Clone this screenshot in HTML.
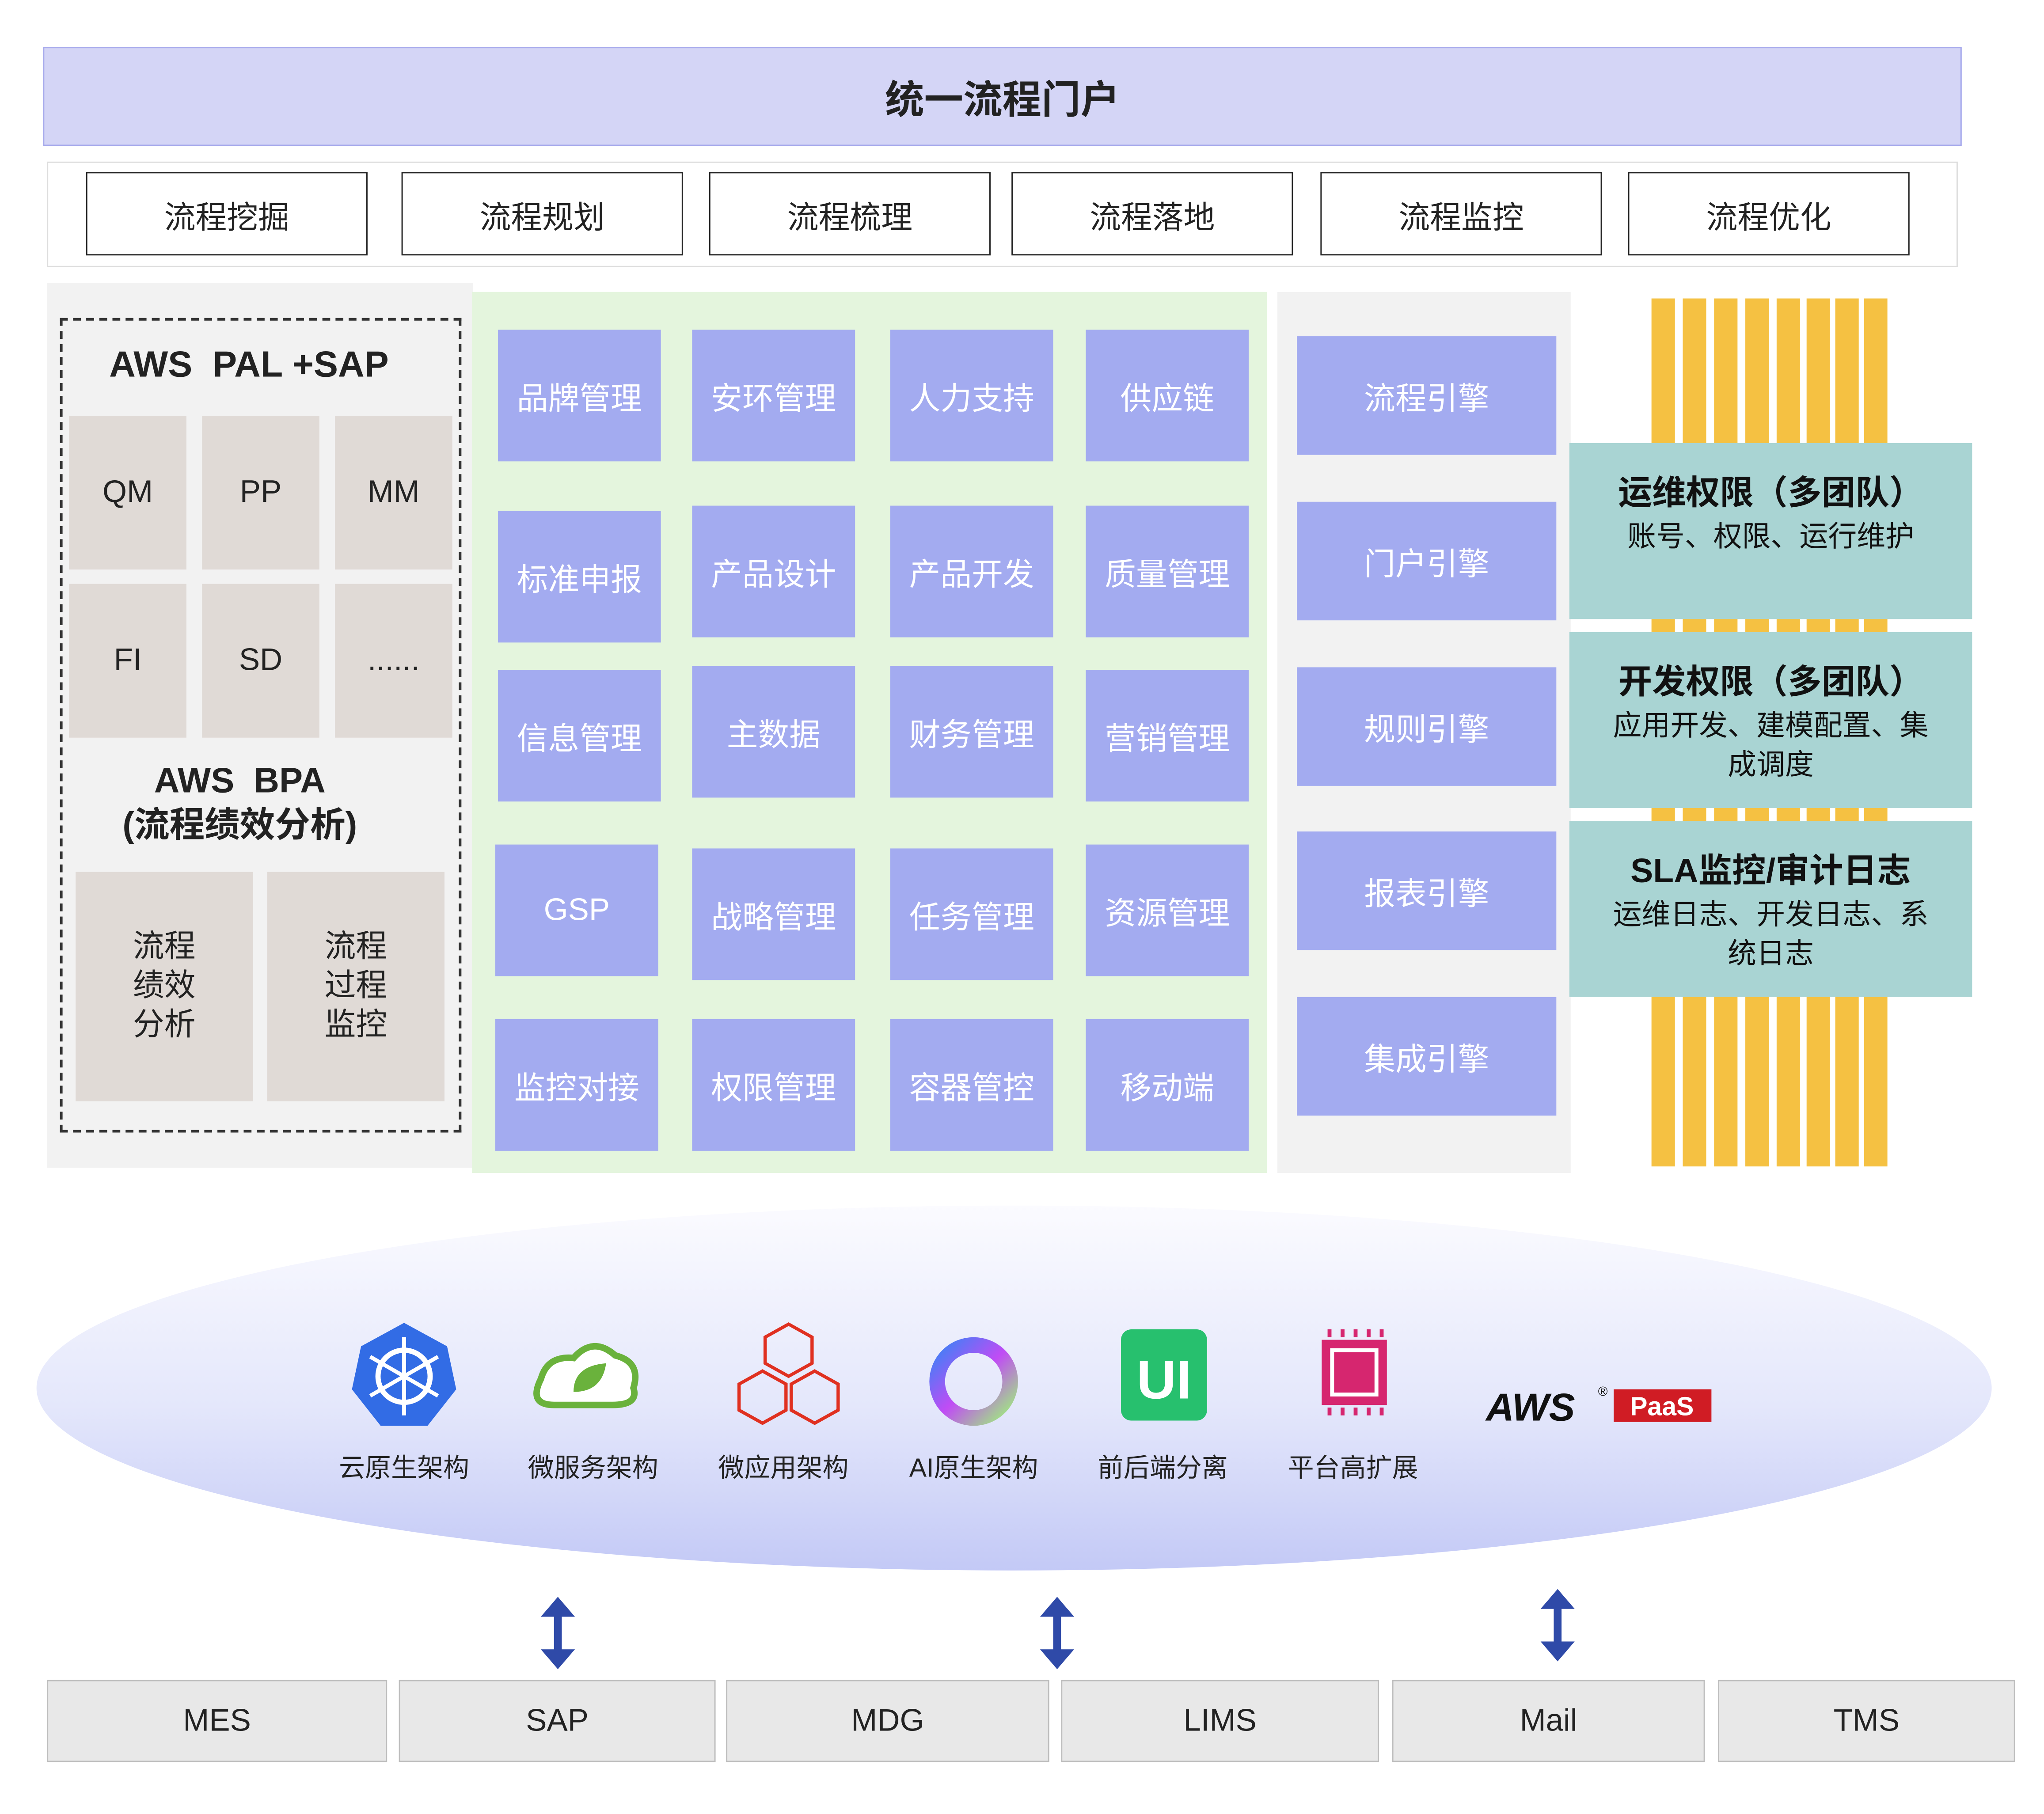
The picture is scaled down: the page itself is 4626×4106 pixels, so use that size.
<!DOCTYPE html>
<html><head><meta charset="utf-8"><style>
html,body{margin:0;padding:0;background:#fff;width:4626px;height:4105px;overflow:hidden}
#w{position:absolute;left:0;top:0;width:1568px;height:1392px;transform:scale(2.950);transform-origin:0 0;font-family:"Liberation Sans","Noto Sans CJK SC",sans-serif}
.a{position:absolute;box-sizing:border-box;display:flex;align-items:center;justify-content:center;text-align:center}
.p{background:#a3abf0;color:#fff;font-size:24px;width:125px;height:101px}
.t{border:1.5px solid #222;font-size:24px;color:#222;width:216px;height:64px;top:132px;background:#fff}
.c{background:#e0dad6;color:#222;font-size:24px}
.e{background:#a3abf0;color:#fff;font-size:24px;left:995px;width:199px;height:91px}
.y{position:absolute;top:229px;width:18px;height:666px;background:#f5c142}
.g{background:#a9d4d3;color:#111;flex-direction:column;left:1204px;width:309px;height:135px;font-size:22px;line-height:30px}
.g b{font-size:26px;line-height:38px}
.b{background:#e8e8e8;border:1px solid #bdbdbd;top:1289px;height:63px;font-size:24px;color:#222}
.l{position:absolute;top:1110px;font-size:20px;color:#222;width:110px;text-align:center}
</style></head><body><div id="w">
<div class="a" style="left:33px;top:36px;width:1472px;height:76px;background:#d4d5f6;border:1px solid #a6a9ec;font-size:30px;font-weight:bold;color:#222">统一流程门户</div>
<div class="a" style="left:36px;top:124px;width:1466px;height:81px;border:1px solid #ddd"></div>
<div class="a t" style="left:66px">流程挖掘</div>
<div class="a t" style="left:308px">流程规划</div>
<div class="a t" style="left:544px">流程梳理</div>
<div class="a t" style="left:776px">流程落地</div>
<div class="a t" style="left:1013px">流程监控</div>
<div class="a t" style="left:1249px">流程优化</div>

<div class="a" style="left:36px;top:217px;width:327px;height:679px;background:#f2f2f2"></div>
<div class="a" style="left:46px;top:244px;width:308px;height:625px;border:2px dashed #333"></div>
<div class="a" style="left:46px;top:258px;width:290px;height:44px;font-size:28px;font-weight:bold;color:#222">AWS&nbsp; PAL +SAP</div>
<div class="a c" style="left:53px;top:319px;width:90px;height:118px">QM</div>
<div class="a c" style="left:155px;top:319px;width:90px;height:118px">PP</div>
<div class="a c" style="left:257px;top:319px;width:90px;height:118px">MM</div>
<div class="a c" style="left:53px;top:448px;width:90px;height:118px">FI</div>
<div class="a c" style="left:155px;top:448px;width:90px;height:118px">SD</div>
<div class="a c" style="left:257px;top:448px;width:90px;height:118px">......</div>
<div class="a" style="left:46px;top:578px;width:276px;height:76px;font-size:27px;font-weight:bold;color:#222;flex-direction:column;line-height:34px">AWS&nbsp; BPA<br>(流程绩效分析)</div>
<div class="a c" style="left:58px;top:669px;width:136px;height:176px;line-height:30px">流程<br>绩效<br>分析</div>
<div class="a c" style="left:205px;top:669px;width:136px;height:176px;line-height:30px">流程<br>过程<br>监控</div>

<div class="a" style="left:362px;top:224px;width:610px;height:676px;background:#e4f5dd"></div>
<div class="a p" style="left:382px;top:253px">品牌管理</div>
<div class="a p" style="left:531px;top:253px">安环管理</div>
<div class="a p" style="left:683px;top:253px">人力支持</div>
<div class="a p" style="left:833px;top:253px">供应链</div>
<div class="a p" style="left:382px;top:392px">标准申报</div>
<div class="a p" style="left:531px;top:388px">产品设计</div>
<div class="a p" style="left:683px;top:388px">产品开发</div>
<div class="a p" style="left:833px;top:388px">质量管理</div>
<div class="a p" style="left:382px;top:514px">信息管理</div>
<div class="a p" style="left:531px;top:511px">主数据</div>
<div class="a p" style="left:683px;top:511px">财务管理</div>
<div class="a p" style="left:833px;top:514px">营销管理</div>
<div class="a p" style="left:380px;top:648px">GSP</div>
<div class="a p" style="left:531px;top:651px">战略管理</div>
<div class="a p" style="left:683px;top:651px">任务管理</div>
<div class="a p" style="left:833px;top:648px">资源管理</div>
<div class="a p" style="left:380px;top:782px">监控对接</div>
<div class="a p" style="left:531px;top:782px">权限管理</div>
<div class="a p" style="left:683px;top:782px">容器管控</div>
<div class="a p" style="left:833px;top:782px">移动端</div>

<div class="a" style="left:980px;top:224px;width:225px;height:676px;background:#f2f2f2"></div>
<div class="a e" style="top:258px">流程引擎</div>
<div class="a e" style="top:385px">门户引擎</div>
<div class="a e" style="top:512px">规则引擎</div>
<div class="a e" style="top:638px">报表引擎</div>
<div class="a e" style="top:765px">集成引擎</div>

<div class="y" style="left:1267px"></div><div class="y" style="left:1291px"></div><div class="y" style="left:1315px"></div><div class="y" style="left:1339px"></div><div class="y" style="left:1363px"></div><div class="y" style="left:1386px"></div><div class="y" style="left:1408px"></div><div class="y" style="left:1430px"></div>
<div class="a g" style="top:340px"><b>运维权限（多团队）</b>账号、权限、运行维护<br>&nbsp;</div>
<div class="a g" style="top:485px"><b>开发权限（多团队）</b>应用开发、建模配置、集<br>成调度</div>
<div class="a g" style="top:630px"><b>SLA监控/审计日志</b>运维日志、开发日志、系<br>统日志</div>

<div style="position:absolute;left:28px;top:925px;width:1500px;height:280px;border-radius:50%;background:linear-gradient(#fbfbff,#e4e7fb 55%,#c3c9f6)"></div>
<svg style="position:absolute;left:0;top:0" width="1560" height="1385">
<polygon points="310,1015 343,1033 350,1066 328,1094 292,1094 270,1066 277,1033" fill="#326ce5"/>
<circle cx="310" cy="1056" r="20" fill="none" stroke="#fff" stroke-width="4"/>
<g stroke="#fff" stroke-width="3"><line x1="310" y1="1026" x2="310" y2="1086"/><line x1="284" y1="1041" x2="336" y2="1071"/><line x1="284" y1="1071" x2="336" y2="1041"/></g>
<path d="M425,1078 Q405,1078 415,1058 Q420,1040 440,1042 Q455,1025 472,1040 Q492,1045 486,1065 Q490,1078 470,1078Z" fill="#fff" stroke="#6ab23c" stroke-width="5"/>
<path d="M440,1068 Q440,1048 465,1046 Q462,1068 440,1068Z" fill="#6ab23c"/>
<g fill="none" stroke="#e03020" stroke-width="2.5"><path d="M605,1016 l18,10 v20 l-18,10 l-18,-10 v-20z"/><path d="M585,1052 l18,10 v20 l-18,10 l-18,-10 v-20z"/><path d="M625,1052 l18,10 v20 l-18,10 l-18,-10 v-20z"/></g>
<circle cx="747" cy="1060" r="28" fill="none" stroke="url(#rg)" stroke-width="12"/>
<defs><linearGradient id="rg" x1="0" y1="0" x2="1" y2="1"><stop offset="0" stop-color="#3b82f6"/><stop offset=".5" stop-color="#c04cf5"/><stop offset="1" stop-color="#9ef07a"/></linearGradient></defs>
<rect x="860" y="1020" width="66" height="70" rx="8" fill="#27c06e"/>
<text x="893" y="1073" font-size="42" font-weight="bold" fill="#fff" text-anchor="middle" font-family="Liberation Sans">UI</text>
<rect x="1014" y="1028" width="50" height="50" fill="#d6266f"/><rect x="1022" y="1036" width="34" height="34" fill="none" stroke="#fff" stroke-width="3"/>
<g stroke="#d6266f" stroke-width="3"><path d="M1020,1020v6M1030,1020v6M1040,1020v6M1050,1020v6M1060,1020v6M1020,1080v6M1030,1080v6M1040,1080v6M1050,1080v6M1060,1080v6"/></g>
<text x="1140" y="1090" font-size="30" font-style="italic" font-weight="bold" fill="#111" font-family="Liberation Sans">AWS</text>
<text x="1226" y="1071" font-size="10" fill="#111">®</text>
<rect x="1238" y="1066" width="75" height="25" fill="#d01c24"/><text x="1275" y="1086" font-size="20" font-weight="bold" fill="#fff" text-anchor="middle" font-family="Liberation Sans">PaaS</text>
<g fill="#2f4aa8" stroke="#2f4aa8" stroke-width="6">
<line x1="428" y1="1238" x2="428" y2="1268"/><polygon points="416,1240 440,1240 428,1226" stroke-width="1"/><polygon points="416,1266 440,1266 428,1280" stroke-width="1"/>
<line x1="811" y1="1238" x2="811" y2="1268"/><polygon points="799,1240 823,1240 811,1226" stroke-width="1"/><polygon points="799,1266 823,1266 811,1280" stroke-width="1"/>
<line x1="1195" y1="1232" x2="1195" y2="1262"/><polygon points="1183,1234 1207,1234 1195,1220" stroke-width="1"/><polygon points="1183,1260 1207,1260 1195,1274" stroke-width="1"/>
</g></svg>
<div class="l" style="left:255px">云原生架构</div>
<div class="l" style="left:400px">微服务架构</div>
<div class="l" style="left:546px">微应用架构</div>
<div class="l" style="left:692px">AI原生架构</div>
<div class="l" style="left:837px">前后端分离</div>
<div class="l" style="left:983px">平台高扩展</div>

<div class="a b" style="left:36px;width:261px">MES</div>
<div class="a b" style="left:306px;width:243px">SAP</div>
<div class="a b" style="left:557px;width:248px">MDG</div>
<div class="a b" style="left:814px;width:244px">LIMS</div>
<div class="a b" style="left:1068px;width:240px">Mail</div>
<div class="a b" style="left:1318px;width:228px">TMS</div>
</div></body></html>
